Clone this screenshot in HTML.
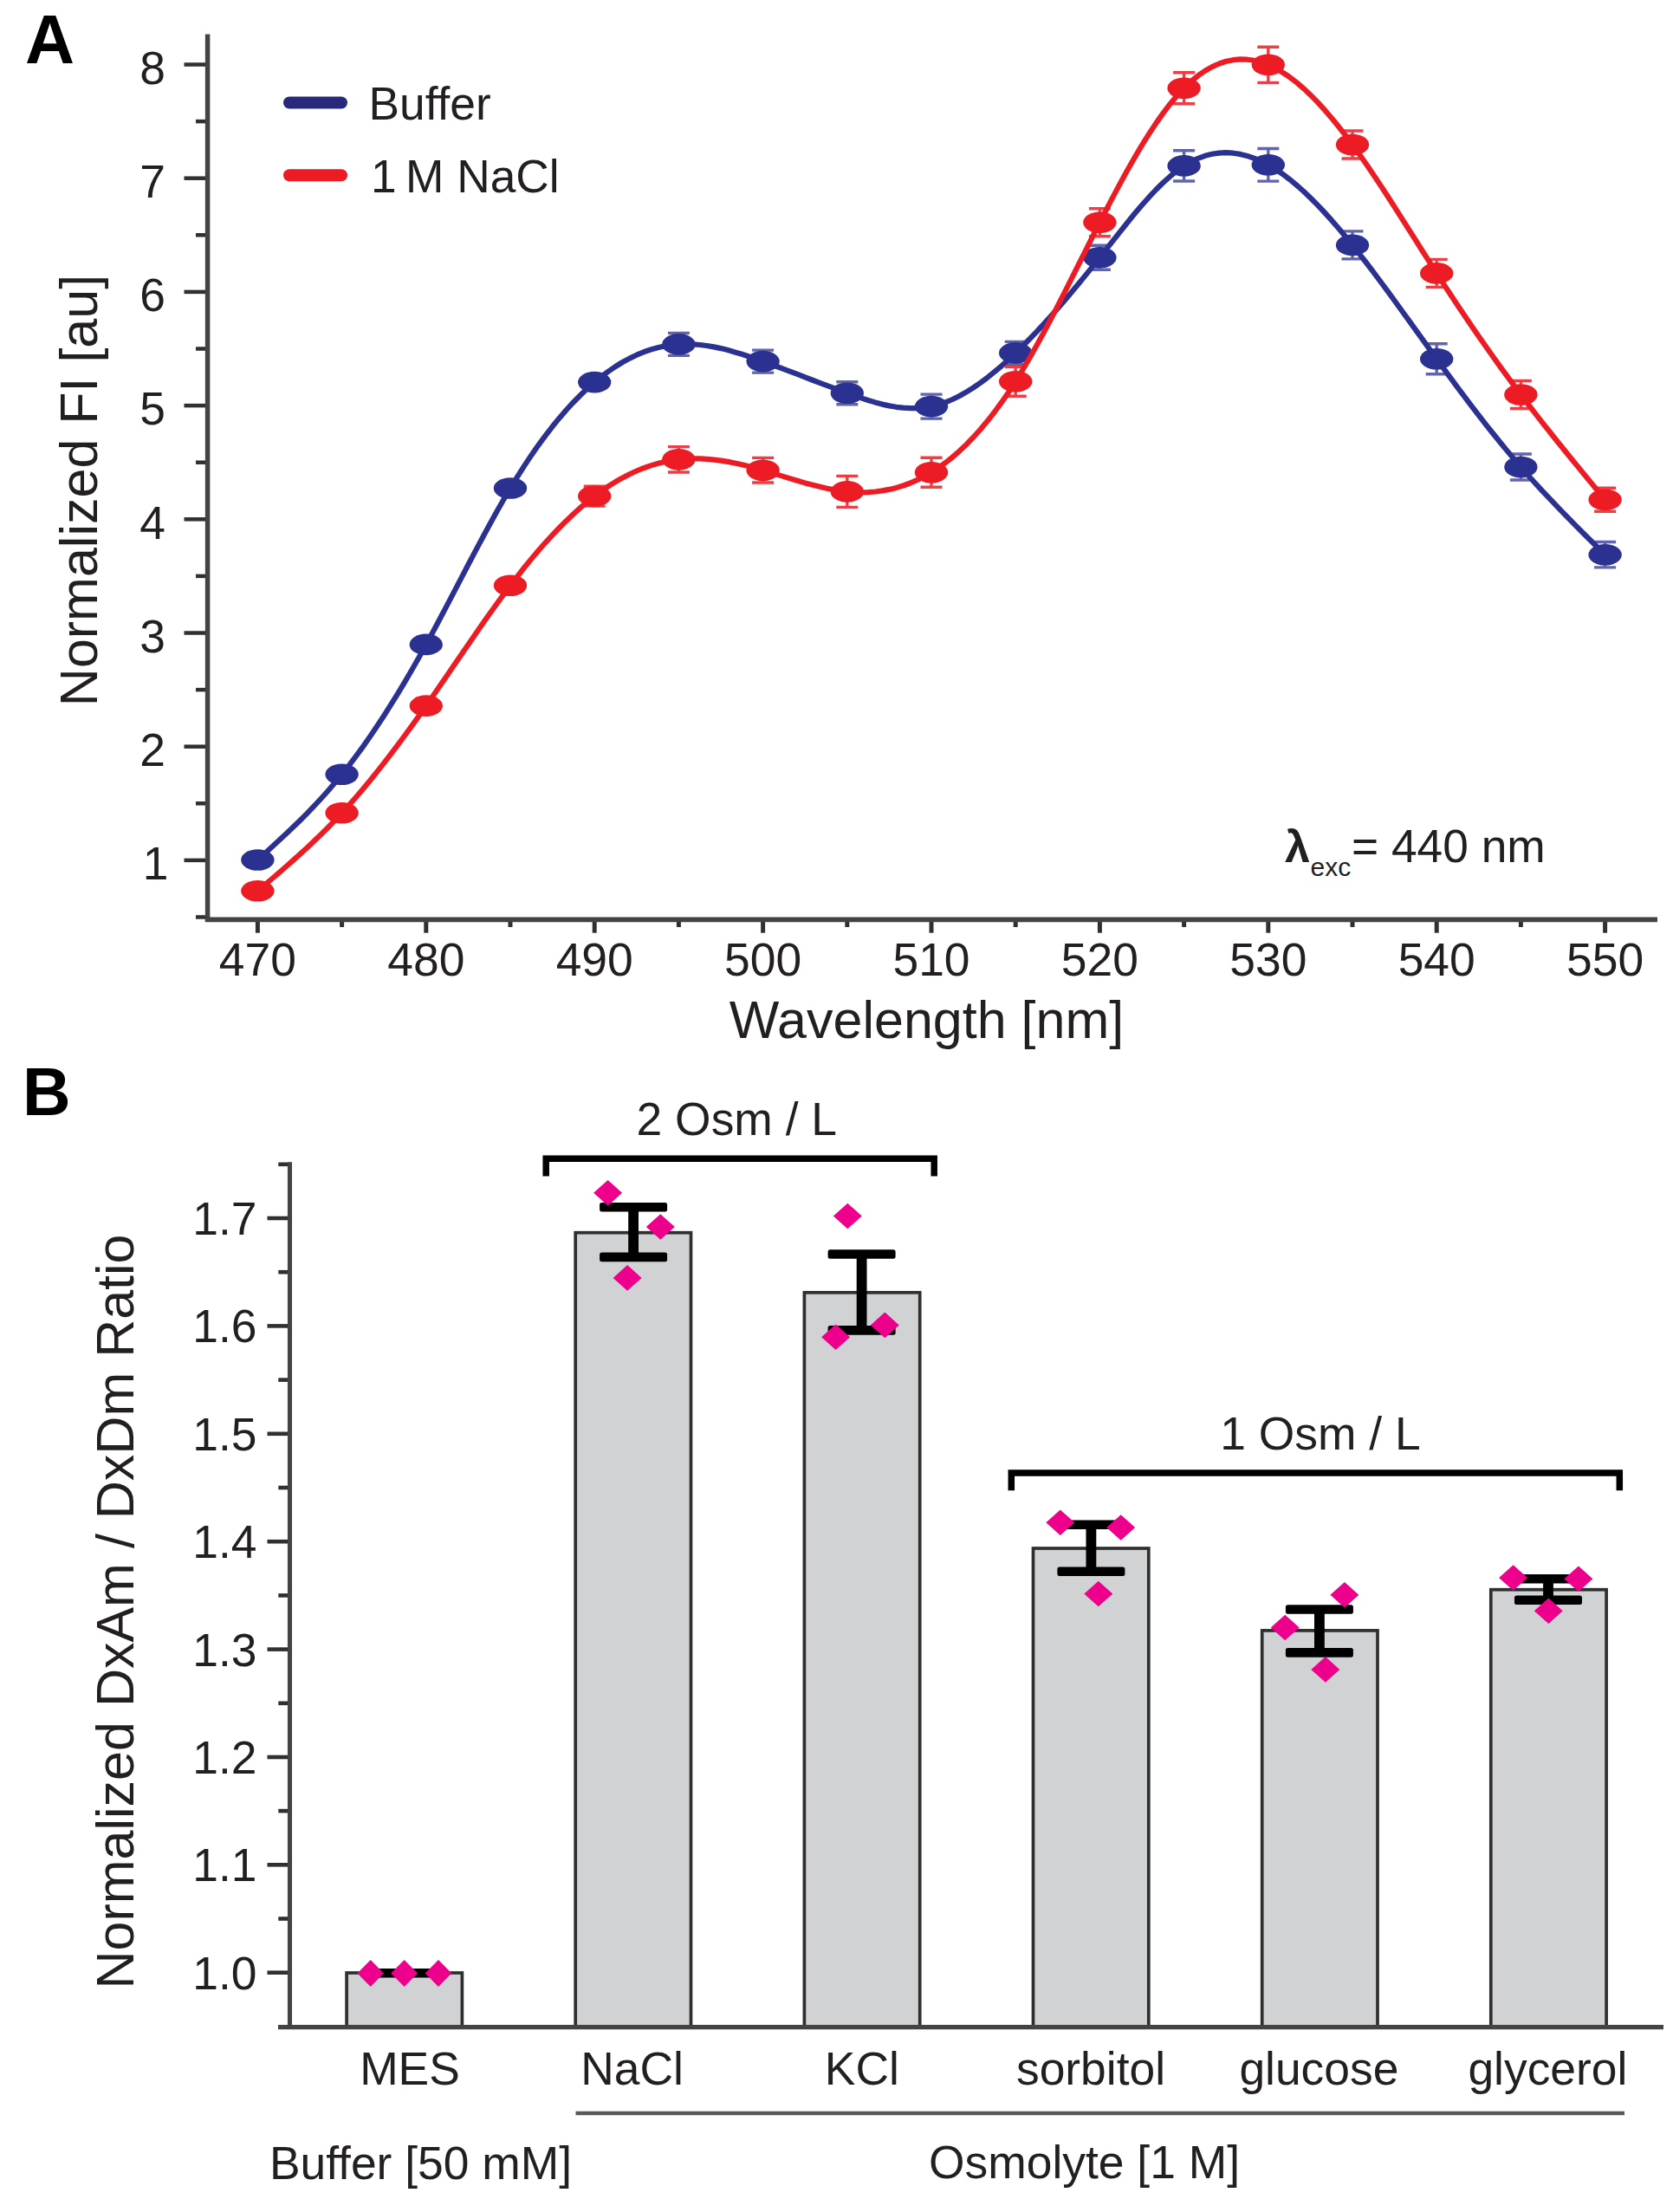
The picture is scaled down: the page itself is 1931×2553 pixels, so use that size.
<!DOCTYPE html>
<html lang="en"><head><meta charset="utf-8"><title>Figure</title>
<style>html,body{margin:0;padding:0;background:#fff}svg{display:block}</style></head>
<body>
<svg width="1931" height="2553" viewBox="0 0 1931 2553" font-family="'Liberation Sans', sans-serif" fill="#231f20">
<rect width="1931" height="2553" fill="#ffffff"/>
<g>
<text x="29" y="73.3" font-size="79" font-weight="bold" fill="#000">A</text>
<g stroke="#303031" stroke-width="4.5" fill="none">
<path d="M212.5,992.9 H239.6"/>
<path d="M212.5,861.7 H239.6"/>
<path d="M212.5,730.5 H239.6"/>
<path d="M212.5,599.3 H239.6"/>
<path d="M212.5,468.1 H239.6"/>
<path d="M212.5,336.9 H239.6"/>
<path d="M212.5,205.7 H239.6"/>
<path d="M212.5,74.5 H239.6"/>
<path d="M226,1058.5 H239.6"/>
<path d="M226,927.3 H239.6"/>
<path d="M226,796.1 H239.6"/>
<path d="M226,664.9 H239.6"/>
<path d="M226,533.7 H239.6"/>
<path d="M226,402.5 H239.6"/>
<path d="M226,271.3 H239.6"/>
<path d="M226,140.1 H239.6"/>
<path d="M297.4,1061.0 V1076.7" stroke-width="5"/>
<path d="M491.8,1061.0 V1076.7" stroke-width="5"/>
<path d="M686.2,1061.0 V1076.7" stroke-width="5"/>
<path d="M880.6,1061.0 V1076.7" stroke-width="5"/>
<path d="M1075.0,1061.0 V1076.7" stroke-width="5"/>
<path d="M1269.4,1061.0 V1076.7" stroke-width="5"/>
<path d="M1463.8,1061.0 V1076.7" stroke-width="5"/>
<path d="M1658.2,1061.0 V1076.7" stroke-width="5"/>
<path d="M1852.6,1061.0 V1076.7" stroke-width="5"/>
<path d="M394.6,1061.0 V1070" stroke-width="5"/>
<path d="M589.0,1061.0 V1070" stroke-width="5"/>
<path d="M783.4,1061.0 V1070" stroke-width="5"/>
<path d="M977.8,1061.0 V1070" stroke-width="5"/>
<path d="M1172.2,1061.0 V1070" stroke-width="5"/>
<path d="M1366.6,1061.0 V1070" stroke-width="5"/>
<path d="M1561.0,1061.0 V1070" stroke-width="5"/>
<path d="M1755.4,1061.0 V1070" stroke-width="5"/>
</g>
<g stroke="#434344" stroke-width="5.5" fill="none">
<path d="M239.6,39.5 V1063.9"/>
<path d="M236.85,1061.3 H1913" stroke-width="5.8"/>
</g>
<g font-size="53.4" text-anchor="end">
<text x="194.5" y="1015.1">1</text>
<text x="191" y="883.9">2</text>
<text x="191" y="752.7">3</text>
<text x="191" y="621.5">4</text>
<text x="191" y="490.3">5</text>
<text x="191" y="359.1">6</text>
<text x="191" y="227.9">7</text>
<text x="191" y="96.7">8</text>
</g>
<g font-size="53.4" text-anchor="middle">
<text x="297.4" y="1126.3">470</text>
<text x="491.8" y="1126.3">480</text>
<text x="686.2" y="1126.3">490</text>
<text x="880.6" y="1126.3">500</text>
<text x="1075.0" y="1126.3">510</text>
<text x="1269.4" y="1126.3">520</text>
<text x="1463.8" y="1126.3">530</text>
<text x="1658.2" y="1126.3">540</text>
<text x="1852.6" y="1126.3">550</text>
</g>
<text transform="translate(111.5,566) rotate(-90)" font-size="61" text-anchor="middle">Normalized FI [au]</text>
<text x="1069.5" y="1198" font-size="61" text-anchor="middle">Wavelength [nm]</text>
<path d="M334,118.5 H394" stroke="#262a78" stroke-width="14" stroke-linecap="round"/>
<path d="M334,202.3 H394" stroke="#ed1c24" stroke-width="14" stroke-linecap="round"/>
<text x="425.5" y="137.7" font-size="53.3">Buffer</text>
<text x="425.5" y="221.5" font-size="53.3"><tspan dx="2.5">1</tspan><tspan dx="-4.5"> M NaCl</tspan></text>
<text x="1483" y="994.6" font-size="52" font-weight="bold">λ</text>
<text x="1512.5" y="1011" font-size="30">exc</text>
<text x="1560" y="994.6" font-size="53.3">= 440 nm</text>
<path d="M297.4,992.5 L305.5,985.2 L313.6,977.8 L321.7,970.3 L329.8,962.8 L337.9,955.1 L346.0,947.2 L354.1,939.1 L362.2,930.7 L370.3,922.0 L378.4,913.0 L386.5,903.6 L394.6,893.8 L402.7,883.6 L410.8,872.9 L418.9,861.8 L427.0,850.3 L435.1,838.3 L443.2,826.0 L451.3,813.2 L459.4,800.1 L467.5,786.6 L475.6,772.7 L483.7,758.5 L491.8,743.9 L499.9,729.0 L508.0,713.8 L516.1,698.4 L524.2,682.9 L532.3,667.4 L540.4,651.8 L548.5,636.4 L556.6,621.2 L564.7,606.2 L572.8,591.5 L580.9,577.3 L589.0,563.5 L597.1,550.3 L605.2,537.6 L613.3,525.4 L621.4,513.8 L629.5,502.8 L637.6,492.3 L645.7,482.4 L653.8,473.0 L661.9,464.2 L670.0,456.0 L678.1,448.3 L686.2,441.1 L694.3,434.5 L702.4,428.5 L710.5,423.0 L718.6,418.0 L726.7,413.6 L734.8,409.7 L742.9,406.3 L751.0,403.5 L759.1,401.2 L767.2,399.4 L775.3,398.2 L783.4,397.4 L791.5,397.1 L799.6,397.3 L807.7,398.0 L815.8,399.0 L823.9,400.4 L832.0,402.1 L840.1,404.1 L848.2,406.4 L856.3,408.8 L864.4,411.5 L872.5,414.2 L880.6,417.1 L888.7,420.0 L896.8,423.0 L904.9,426.1 L913.0,429.1 L921.1,432.2 L929.2,435.3 L937.3,438.5 L945.4,441.6 L953.5,444.6 L961.6,447.7 L969.7,450.7 L977.8,453.7 L985.9,456.6 L994.0,459.4 L1002.1,462.0 L1010.2,464.4 L1018.3,466.6 L1026.4,468.4 L1034.5,469.8 L1042.6,470.7 L1050.7,471.2 L1058.8,471.1 L1066.9,470.4 L1075.0,469.1 L1083.1,467.1 L1091.2,464.3 L1099.3,461.0 L1107.4,457.0 L1115.5,452.4 L1123.6,447.4 L1131.7,441.8 L1139.8,435.7 L1147.9,429.2 L1156.0,422.3 L1164.1,415.0 L1172.2,407.4 L1180.3,399.5 L1188.4,391.3 L1196.5,382.9 L1204.6,374.1 L1212.7,365.2 L1220.8,356.0 L1228.9,346.7 L1237.0,337.1 L1245.1,327.3 L1253.2,317.4 L1261.3,307.4 L1269.4,297.2 L1277.5,286.9 L1285.6,276.6 L1293.7,266.3 L1301.8,256.2 L1309.9,246.3 L1318.0,236.8 L1326.1,227.7 L1334.2,219.0 L1342.3,211.0 L1350.4,203.7 L1358.5,197.1 L1366.6,191.4 L1374.7,186.6 L1382.8,182.8 L1390.9,179.8 L1399.0,177.8 L1407.1,176.6 L1415.2,176.2 L1423.3,176.7 L1431.4,177.9 L1439.5,179.9 L1447.6,182.7 L1455.7,186.1 L1463.8,190.3 L1471.9,195.1 L1480.0,200.6 L1488.1,206.7 L1496.2,213.4 L1504.3,220.5 L1512.4,228.2 L1520.5,236.4 L1528.6,245.0 L1536.7,253.9 L1544.8,263.3 L1552.9,272.9 L1561.0,282.9 L1569.1,293.1 L1577.2,303.5 L1585.3,314.2 L1593.4,325.0 L1601.5,335.9 L1609.6,347.0 L1617.7,358.2 L1625.8,369.4 L1633.9,380.6 L1642.0,391.9 L1650.1,403.1 L1658.2,414.3 L1666.3,425.4 L1674.4,436.4 L1682.5,447.4 L1690.6,458.2 L1698.7,468.8 L1706.8,479.4 L1714.9,489.8 L1723.0,500.0 L1731.1,510.0 L1739.2,519.9 L1747.3,529.6 L1755.4,539.0 L1763.5,548.2 L1771.6,557.2 L1779.7,566.1 L1787.8,574.7 L1795.9,583.2 L1804.0,591.6 L1812.1,599.9 L1820.2,608.1 L1828.3,616.2 L1836.4,624.2 L1844.5,632.2 L1852.6,640.2" fill="none" stroke="#2b3190" stroke-width="6.2" stroke-linejoin="round" stroke-linecap="round"/>
<g stroke="#2b3190" stroke-width="3.4" fill="none" opacity="0.75">
<path d="M297.4,986.5 V998.5 M284.9,986.5 h25 M284.9,998.5 h25"/>
<path d="M394.6,887.8 V899.8 M382.1,887.8 h25 M382.1,899.8 h25"/>
<path d="M491.8,737.9 V749.9 M479.3,737.9 h25 M479.3,749.9 h25"/>
<path d="M589.0,557.5 V569.5 M576.5,557.5 h25 M576.5,569.5 h25"/>
<path d="M686.2,434.1 V448.1 M673.7,434.1 h25 M673.7,448.1 h25"/>
<path d="M783.4,384.4 V410.4 M770.9,384.4 h25 M770.9,410.4 h25"/>
<path d="M880.6,404.1 V430.1 M868.1,404.1 h25 M868.1,430.1 h25"/>
<path d="M977.8,440.7 V466.7 M965.3,440.7 h25 M965.3,466.7 h25"/>
<path d="M1075.0,455.1 V483.1 M1062.5,455.1 h25 M1062.5,483.1 h25"/>
<path d="M1172.2,394.4 V420.4 M1159.7,394.4 h25 M1159.7,420.4 h25"/>
<path d="M1269.4,283.2 V311.2 M1256.9,283.2 h25 M1256.9,311.2 h25"/>
<path d="M1366.6,173.8 V209.0 M1354.1,173.8 h25 M1354.1,209.0 h25"/>
<path d="M1463.8,171.5 V209.1 M1451.3,171.5 h25 M1451.3,209.1 h25"/>
<path d="M1561.0,266.9 V298.9 M1548.5,266.9 h25 M1548.5,298.9 h25"/>
<path d="M1658.2,396.8 V431.8 M1645.7,396.8 h25 M1645.7,431.8 h25"/>
<path d="M1755.4,524.0 V554.0 M1742.9,524.0 h25 M1742.9,554.0 h25"/>
<path d="M1852.6,625.5 V654.9 M1840.1,625.5 h25 M1840.1,654.9 h25"/>
</g>
<g fill="#2b3190">
<ellipse cx="297.4" cy="992.5" rx="19.2" ry="12.3"/>
<ellipse cx="394.6" cy="893.8" rx="19.2" ry="12.3"/>
<ellipse cx="491.8" cy="743.9" rx="19.2" ry="12.3"/>
<ellipse cx="589.0" cy="563.5" rx="19.2" ry="12.3"/>
<ellipse cx="686.2" cy="441.1" rx="19.2" ry="12.3"/>
<ellipse cx="783.4" cy="397.4" rx="19.2" ry="12.3"/>
<ellipse cx="880.6" cy="417.1" rx="19.2" ry="12.3"/>
<ellipse cx="977.8" cy="453.7" rx="19.2" ry="12.3"/>
<ellipse cx="1075.0" cy="469.1" rx="19.2" ry="12.3"/>
<ellipse cx="1172.2" cy="407.4" rx="19.2" ry="12.3"/>
<ellipse cx="1269.4" cy="297.2" rx="19.2" ry="12.3"/>
<ellipse cx="1366.6" cy="191.4" rx="19.2" ry="12.3"/>
<ellipse cx="1463.8" cy="190.3" rx="19.2" ry="12.3"/>
<ellipse cx="1561.0" cy="282.9" rx="19.2" ry="12.3"/>
<ellipse cx="1658.2" cy="414.3" rx="19.2" ry="12.3"/>
<ellipse cx="1755.4" cy="539.0" rx="19.2" ry="12.3"/>
<ellipse cx="1852.6" cy="640.2" rx="19.2" ry="12.3"/>
</g>
<path d="M297.4,1028.3 L305.5,1021.4 L313.6,1014.5 L321.7,1007.6 L329.8,1000.5 L337.9,993.4 L346.0,986.1 L354.1,978.7 L362.2,971.1 L370.3,963.3 L378.4,955.2 L386.5,946.9 L394.6,938.3 L402.7,929.4 L410.8,920.2 L418.9,910.7 L427.0,900.9 L435.1,890.9 L443.2,880.6 L451.3,870.1 L459.4,859.4 L467.5,848.5 L475.6,837.4 L483.7,826.1 L491.8,814.6 L499.9,803.0 L508.0,791.3 L516.1,779.4 L524.2,767.6 L532.3,755.7 L540.4,743.9 L548.5,732.2 L556.6,720.5 L564.7,709.0 L572.8,697.7 L580.9,686.6 L589.0,675.8 L597.1,665.3 L605.2,655.0 L613.3,645.1 L621.4,635.5 L629.5,626.3 L637.6,617.5 L645.7,609.0 L653.8,600.9 L661.9,593.2 L670.0,585.9 L678.1,579.0 L686.2,572.6 L694.3,566.6 L702.4,561.1 L710.5,556.0 L718.6,551.4 L726.7,547.2 L734.8,543.5 L742.9,540.2 L751.0,537.4 L759.1,535.0 L767.2,533.0 L775.3,531.4 L783.4,530.3 L791.5,529.6 L799.6,529.3 L807.7,529.4 L815.8,529.8 L823.9,530.6 L832.0,531.6 L840.1,532.9 L848.2,534.5 L856.3,536.3 L864.4,538.3 L872.5,540.4 L880.6,542.7 L888.7,545.1 L896.8,547.6 L904.9,550.1 L913.0,552.6 L921.1,555.0 L929.2,557.4 L937.3,559.6 L945.4,561.6 L953.5,563.5 L961.6,565.1 L969.7,566.4 L977.8,567.4 L985.9,568.0 L994.0,568.3 L1002.1,568.1 L1010.2,567.5 L1018.3,566.4 L1026.4,564.9 L1034.5,562.9 L1042.6,560.5 L1050.7,557.5 L1058.8,553.9 L1066.9,549.9 L1075.0,545.2 L1083.1,540.0 L1091.2,534.1 L1099.3,527.7 L1107.4,520.6 L1115.5,512.9 L1123.6,504.5 L1131.7,495.5 L1139.8,485.8 L1147.9,475.5 L1156.0,464.4 L1164.1,452.7 L1172.2,440.2 L1180.3,427.0 L1188.4,413.2 L1196.5,398.8 L1204.6,384.0 L1212.7,368.7 L1220.8,353.1 L1228.9,337.2 L1237.0,321.1 L1245.1,305.0 L1253.2,288.8 L1261.3,272.7 L1269.4,256.7 L1277.5,240.9 L1285.6,225.4 L1293.7,210.3 L1301.8,195.6 L1309.9,181.4 L1318.0,167.7 L1326.1,154.7 L1334.2,142.4 L1342.3,130.9 L1350.4,120.2 L1358.5,110.5 L1366.6,101.7 L1374.7,94.0 L1382.8,87.3 L1390.9,81.7 L1399.0,77.1 L1407.1,73.5 L1415.2,70.8 L1423.3,69.2 L1431.4,68.4 L1439.5,68.7 L1447.6,69.8 L1455.7,71.9 L1463.8,74.8 L1471.9,78.6 L1480.0,83.3 L1488.1,88.7 L1496.2,94.9 L1504.3,101.8 L1512.4,109.4 L1520.5,117.6 L1528.6,126.5 L1536.7,135.9 L1544.8,145.8 L1552.9,156.2 L1561.0,167.0 L1569.1,178.2 L1577.2,189.8 L1585.3,201.7 L1593.4,213.9 L1601.5,226.3 L1609.6,238.9 L1617.7,251.6 L1625.8,264.4 L1633.9,277.2 L1642.0,290.0 L1650.1,302.7 L1658.2,315.4 L1666.3,327.9 L1674.4,340.3 L1682.5,352.5 L1690.6,364.5 L1698.7,376.5 L1706.8,388.2 L1714.9,399.8 L1723.0,411.3 L1731.1,422.6 L1739.2,433.7 L1747.3,444.7 L1755.4,455.5 L1763.5,466.2 L1771.6,476.7 L1779.7,487.1 L1787.8,497.3 L1795.9,507.5 L1804.0,517.5 L1812.1,527.5 L1820.2,537.4 L1828.3,547.3 L1836.4,557.1 L1844.5,566.9 L1852.6,576.7" fill="none" stroke="#ed1c24" stroke-width="6.2" stroke-linejoin="round" stroke-linecap="round"/>
<g stroke="#ed1c24" stroke-width="3.4" fill="none" opacity="0.85">
<path d="M297.4,1022.3 V1034.3 M284.9,1022.3 h25 M284.9,1034.3 h25"/>
<path d="M394.6,932.3 V944.3 M382.1,932.3 h25 M382.1,944.3 h25"/>
<path d="M491.8,808.6 V820.6 M479.3,808.6 h25 M479.3,820.6 h25"/>
<path d="M589.0,669.8 V681.8 M576.5,669.8 h25 M576.5,681.8 h25"/>
<path d="M686.2,561.1 V584.1 M673.7,561.1 h25 M673.7,584.1 h25"/>
<path d="M783.4,515.6 V545.0 M770.9,515.6 h25 M770.9,545.0 h25"/>
<path d="M880.6,528.4 V557.0 M868.1,528.4 h25 M868.1,557.0 h25"/>
<path d="M977.8,549.4 V585.4 M965.3,549.4 h25 M965.3,585.4 h25"/>
<path d="M1075.0,528.2 V562.2 M1062.5,528.2 h25 M1062.5,562.2 h25"/>
<path d="M1172.2,423.2 V457.2 M1159.7,423.2 h25 M1159.7,457.2 h25"/>
<path d="M1269.4,240.7 V272.7 M1256.9,240.7 h25 M1256.9,272.7 h25"/>
<path d="M1366.6,83.7 V119.7 M1354.1,83.7 h25 M1354.1,119.7 h25"/>
<path d="M1463.8,54.2 V95.4 M1451.3,54.2 h25 M1451.3,95.4 h25"/>
<path d="M1561.0,151.0 V183.0 M1548.5,151.0 h25 M1548.5,183.0 h25"/>
<path d="M1658.2,299.4 V331.4 M1645.7,299.4 h25 M1645.7,331.4 h25"/>
<path d="M1755.4,439.5 V471.5 M1742.9,439.5 h25 M1742.9,471.5 h25"/>
<path d="M1852.6,563.2 V590.2 M1840.1,563.2 h25 M1840.1,590.2 h25"/>
</g>
<g fill="#ed1c24">
<ellipse cx="297.4" cy="1028.3" rx="19.2" ry="12.3"/>
<ellipse cx="394.6" cy="938.3" rx="19.2" ry="12.3"/>
<ellipse cx="491.8" cy="814.6" rx="19.2" ry="12.3"/>
<ellipse cx="589.0" cy="675.8" rx="19.2" ry="12.3"/>
<ellipse cx="686.2" cy="572.6" rx="19.2" ry="12.3"/>
<ellipse cx="783.4" cy="530.3" rx="19.2" ry="12.3"/>
<ellipse cx="880.6" cy="542.7" rx="19.2" ry="12.3"/>
<ellipse cx="977.8" cy="567.4" rx="19.2" ry="12.3"/>
<ellipse cx="1075.0" cy="545.2" rx="19.2" ry="12.3"/>
<ellipse cx="1172.2" cy="440.2" rx="19.2" ry="12.3"/>
<ellipse cx="1269.4" cy="256.7" rx="19.2" ry="12.3"/>
<ellipse cx="1366.6" cy="101.7" rx="19.2" ry="12.3"/>
<ellipse cx="1463.8" cy="74.8" rx="19.2" ry="12.3"/>
<ellipse cx="1561.0" cy="167.0" rx="19.2" ry="12.3"/>
<ellipse cx="1658.2" cy="315.4" rx="19.2" ry="12.3"/>
<ellipse cx="1755.4" cy="455.5" rx="19.2" ry="12.3"/>
<ellipse cx="1852.6" cy="576.7" rx="19.2" ry="12.3"/>
</g>
<text x="26" y="1287" font-size="77" font-weight="bold" fill="#000">B</text>
<g fill="#d1d2d4" stroke="#2f2f30" stroke-width="3.7">
<rect x="400.1" y="2277.0" width="133.3" height="62.5"/>
<rect x="664.2" y="1422.7" width="133.3" height="916.8"/>
<rect x="928.4" y="1491.8" width="133.3" height="847.7"/>
<rect x="1192.5" y="1787.0" width="133.3" height="552.5"/>
<rect x="1456.7" y="1881.9" width="133.3" height="457.6"/>
<rect x="1720.8" y="1834.7" width="133.3" height="504.8"/>
</g>
<g stroke="#303031" stroke-width="4.6" fill="none">
<path d="M308.5,2276.7 H334.5"/>
<path d="M308.5,2152.3 H334.5"/>
<path d="M308.5,2028.0 H334.5"/>
<path d="M308.5,1903.6 H334.5"/>
<path d="M308.5,1779.2 H334.5"/>
<path d="M308.5,1654.8 H334.5"/>
<path d="M308.5,1530.4 H334.5"/>
<path d="M308.5,1406.0 H334.5"/>
<path d="M321.3,2214.5 H334.5"/>
<path d="M321.3,2090.1 H334.5"/>
<path d="M321.3,1965.8 H334.5"/>
<path d="M321.3,1841.4 H334.5"/>
<path d="M321.3,1717.0 H334.5"/>
<path d="M321.3,1592.6 H334.5"/>
<path d="M321.3,1468.2 H334.5"/>
<path d="M321.3,1343.8 H334.5"/>
</g>
<g stroke="#434344" stroke-width="5.1" fill="none">
<path d="M334.5,1341.3 V2342.0"/>
<path d="M321,2339.6 H1920"/>
</g>
<g font-size="53.4" text-anchor="end">
<text x="296.5" y="2295.7">1.0</text>
<text x="296.5" y="2171.3">1.1</text>
<text x="296.5" y="2047.0">1.2</text>
<text x="296.5" y="1922.6">1.3</text>
<text x="296.5" y="1798.2">1.4</text>
<text x="296.5" y="1673.8">1.5</text>
<text x="296.5" y="1549.4">1.6</text>
<text x="296.5" y="1425.0">1.7</text>
</g>
<text transform="translate(153.8,1860) rotate(-90)" font-size="61" text-anchor="middle">Normalized DxAm / DxDm Ratio</text>
<g fill="#000">
<rect x="428.0" y="2272.0" width="78" height="10.6" rx="2.5"/>
<rect x="725.2" y="1393.3" width="11.8" height="57.6"/>
<rect x="692.1" y="1388.0" width="78" height="10.6" rx="2.5"/>
<rect x="692.1" y="1445.6" width="78" height="10.6" rx="2.5"/>
<rect x="988.7" y="1447.5" width="11.8" height="87.9"/>
<rect x="955.6" y="1442.2" width="78" height="10.6" rx="2.5"/>
<rect x="955.6" y="1530.1" width="78" height="10.6" rx="2.5"/>
<rect x="1253.5" y="1759.7" width="11.8" height="54.1"/>
<rect x="1220.4" y="1754.4" width="78" height="10.6" rx="2.5"/>
<rect x="1220.4" y="1808.5" width="78" height="10.6" rx="2.5"/>
<rect x="1517.0" y="1857.5" width="11.8" height="49.9"/>
<rect x="1483.9" y="1852.2" width="78" height="10.6" rx="2.5"/>
<rect x="1483.9" y="1902.1" width="78" height="10.6" rx="2.5"/>
<rect x="1781.1" y="1822.2" width="11.8" height="24.5"/>
<rect x="1748.0" y="1816.9" width="78" height="10.6" rx="2.5"/>
<rect x="1748.0" y="1841.4" width="78" height="10.6" rx="2.5"/>
</g>
<g fill="#ec008c">
<path d="M412.4,2277.5 L427.7,2262.0 L443.0,2277.5 L427.7,2293.0Z"/>
<path d="M451.3,2277.5 L466.6,2262.0 L481.9,2277.5 L466.6,2293.0Z"/>
<path d="M490.7,2277.5 L506.0,2262.0 L521.3,2277.5 L506.0,2293.0Z"/>
<path d="M685.1,1376.8 L701.6,1362.0 L718.1,1376.8 L701.6,1391.6Z"/>
<path d="M745.8,1416.0 L762.3,1401.2 L778.8,1416.0 L762.3,1430.8Z"/>
<path d="M707.6,1474.9 L724.1,1460.1 L740.6,1474.9 L724.1,1489.7Z"/>
<path d="M961.8,1403.5 L978.3,1388.7 L994.8,1403.5 L978.3,1418.3Z"/>
<path d="M948.1,1543.2 L964.6,1528.4 L981.1,1543.2 L964.6,1558.0Z"/>
<path d="M1004.8,1529.4 L1021.3,1514.6 L1037.8,1529.4 L1021.3,1544.2Z"/>
<path d="M1207.3,1757.3 L1223.8,1742.5 L1240.3,1757.3 L1223.8,1772.1Z"/>
<path d="M1277.2,1763.0 L1293.7,1748.2 L1310.2,1763.0 L1293.7,1777.8Z"/>
<path d="M1251.3,1839.5 L1267.8,1824.7 L1284.3,1839.5 L1267.8,1854.3Z"/>
<path d="M1535.4,1840.8 L1551.9,1826.0 L1568.4,1840.8 L1551.9,1855.6Z"/>
<path d="M1466.7,1878.5 L1483.2,1863.7 L1499.7,1878.5 L1483.2,1893.3Z"/>
<path d="M1513.3,1926.9 L1529.8,1912.1 L1546.3,1926.9 L1529.8,1941.7Z"/>
<path d="M1730.1,1821.0 L1746.6,1806.2 L1763.1,1821.0 L1746.6,1835.8Z"/>
<path d="M1805.4,1822.2 L1821.9,1807.4 L1838.4,1822.2 L1821.9,1837.0Z"/>
<path d="M1770.8,1859.2 L1787.3,1844.4 L1803.8,1859.2 L1787.3,1874.0Z"/>
</g>
<g stroke="#000" stroke-width="7.5" fill="none" stroke-linejoin="miter">
<path d="M630.2,1357.5 V1337.2 H1078.2 V1357.5"/>
<path d="M1167.3,1720.3 V1699.9 H1869.3 V1720.3"/>
</g>
<g font-size="53.4" text-anchor="middle">
<text x="850.3" y="1310">2 Osm / L</text>
<text x="1524" y="1672.7">1 Osm / L</text>
<text x="473" y="2405.5">MES</text>
<text x="729.5" y="2405.5">NaCl</text>
<text x="994.8" y="2405.5">KCl</text>
<text x="1259" y="2405.5">sorbitol</text>
<text x="1522.4" y="2405.5">glucose</text>
<text x="1786.4" y="2405.5">glycerol</text>
<text x="485.5" y="2515">Buffer [50 mM]</text>
<text x="1251.5" y="2514">Osmolyte [1 M]</text>
</g>
<path d="M664.5,2439 H1875" stroke="#58595b" stroke-width="4.5"/>
</g>
</svg>
</body></html>
